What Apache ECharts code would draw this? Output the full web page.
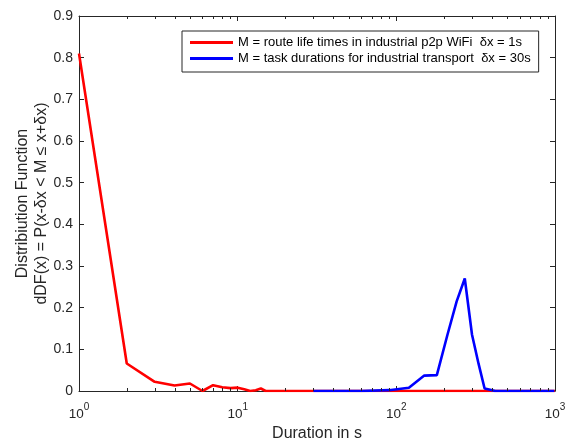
<!DOCTYPE html>
<html>
<head>
<meta charset="utf-8">
<script src="https://cdn.jsdelivr.net/npm/echarts@6/dist/echarts.min.js"></script>
<style>
  html, body { margin: 0; padding: 0; background: #fff; }
  #chart { width: 566px; height: 438px; }
</style>
</head>
<body>
<div id="chart"></div>
<script>
// Route life times in an industrial p2p WiFi network (bin width 1 s)
const routeDurations = [1, 2, 3, 4, 5, 6, 7, 8, 9, 10, 11, 12, 13, 14, 15, 16, 20, 1000];
const routeDDF = [0.81, 0.066, 0.022, 0.013, 0.018, 0.0, 0.014, 0.009, 0.007, 0.008, 0.004, 0.0, 0.002, 0.006, 0.0, 0.0, 0.0, 0.0];

// Task durations for industrial transport (bin width 30 s)
const taskDurations = [30, 60, 90, 120, 150, 180, 210, 240, 270, 300, 330, 360, 390, 420, 990];
const taskDDF = [0.0, 0.0, 0.002, 0.008, 0.037, 0.038, 0.135, 0.215, 0.27, 0.135, 0.065, 0.006, 0.003, 0.0, 0.0];

const seriesNames = [
  'M = route life times in industrial p2p WiFi  \u03b4x = 1s',
  'M = task durations for industrial transport  \u03b4x = 30s'
];

// Minor tick positions of the logarithmic duration axis
const minorTicks = [2, 3, 4, 5, 6, 7, 8, 9, 20, 30, 40, 50, 60, 70, 80, 90, 200, 300, 400, 500, 600, 700, 800, 900];

const axisColor = '#262626';
const fontFamily = 'Liberation Sans, Arial, Helvetica, sans-serif';

const toPairs = (xs, ys) => xs.map((x, i) => [x, ys[i]]);

const chart = echarts.init(document.getElementById('chart'), null, { renderer: 'canvas' });

const logLabel = {
  color: axisColor,
  fontFamily: fontFamily,
  margin: 8,
  formatter: v => '{b|10}{s|' + Math.round(Math.log10(v)) + '}',
  rich: {
    b: { fontSize: 13.5, fontFamily: fontFamily, color: axisColor, padding: [8, 0, 0, 0] },
    s: { fontSize: 10, fontFamily: fontFamily, color: axisColor, padding: [0, 0, 6, 0] }
  }
};

chart.setOption({
  animation: false,
  backgroundColor: '#fff',
  textStyle: { fontFamily: fontFamily },
  grid: { left: 79, right: 11, top: 16, bottom: 47, containLabel: false, outerBoundsMode: 'none' },
  legend: {
    data: seriesNames,
    orient: 'vertical',
    left: 182,
    top: 31,
    padding: [5, 8, 7, 8],
    itemGap: 3,
    itemWidth: 43,
    itemHeight: 3,
    icon: 'rect',
    borderColor: axisColor,
    borderWidth: 1,
    backgroundColor: '#fff',
    textStyle: { fontSize: 13, color: '#000', fontFamily: fontFamily, padding: [0, 0, 0, 0] }
  },
  xAxis: [
    {
      type: 'log', logBase: 10, min: 1, max: 1000, position: 'bottom',
      name: 'Duration in s', nameLocation: 'middle', nameGap: 31,
      nameTextStyle: { fontSize: 16, color: axisColor, fontFamily: fontFamily },
      axisLine: { onZero: false, lineStyle: { color: axisColor, width: 1 } },
      axisTick: { inside: true, length: 5, lineStyle: { color: axisColor } },
      axisLabel: logLabel,
      splitLine: { show: false }
    },
    {
      type: 'log', logBase: 10, min: 1, max: 1000, position: 'top',
      axisLine: { onZero: false, lineStyle: { color: axisColor, width: 1 } },
      axisTick: { inside: true, length: 5, lineStyle: { color: axisColor } },
      axisLabel: { show: false },
      splitLine: { show: false }
    }
  ],
  yAxis: [
    {
      type: 'value', min: 0, max: 0.9, interval: 0.1, position: 'left',
      name: 'Distribiution Function\ndDF(x) = P(x-\u03b4x < M \u2264 x+\u03b4x)',
      nameLocation: 'middle', nameGap: 28, nameRotate: 90, nameMoveOverlap: false,
      nameTextStyle: { fontSize: 16, color: axisColor, fontFamily: fontFamily, lineHeight: 19, align: 'center' },
      axisLine: { show: true, onZero: false, lineStyle: { color: axisColor, width: 1 } },
      axisTick: { show: true, inside: true, length: 5, lineStyle: { color: axisColor } },
      axisLabel: { fontSize: 14, color: axisColor, fontFamily: fontFamily, margin: 6,
                   formatter: v => (Math.round(v * 10) / 10).toString() },
      splitLine: { show: false }
    },
    {
      type: 'value', min: 0, max: 0.9, interval: 0.1, position: 'right',
      axisLine: { show: true, onZero: false, lineStyle: { color: axisColor, width: 1 } },
      axisTick: { show: true, inside: true, length: 5, lineStyle: { color: axisColor } },
      axisLabel: { show: false },
      splitLine: { show: false }
    }
  ],
  series: [
    {
      name: seriesNames[0], type: 'line', xAxisIndex: 0, yAxisIndex: 0,
      data: toPairs(routeDurations, routeDDF),
      showSymbol: false, symbol: 'none',
      lineStyle: { color: '#ff0000', width: 2.6 },
      itemStyle: { color: '#ff0000' },
      z: 3
    },
    {
      name: seriesNames[1], type: 'line', xAxisIndex: 0, yAxisIndex: 0,
      data: toPairs(taskDurations, taskDDF),
      showSymbol: false, symbol: 'none',
      lineStyle: { color: '#0000ff', width: 2.6 },
      itemStyle: { color: '#0000ff' },
      z: 4
    },
    {
      // minor ticks on bottom and top edges of the log axis
      type: 'custom', xAxisIndex: 0, yAxisIndex: 0, silent: true, z: 5,
      data: minorTicks.map(v => [v]),
      renderItem: (params, api) => {
        const v = api.value(0);
        const b = api.coord([v, 0]);
        const t = api.coord([v, 0.9]);
        const x = Math.round(b[0]) + 0.5;
        const style = { stroke: axisColor, lineWidth: 1 };
        return {
          type: 'group',
          children: [
            { type: 'line', shape: { x1: x, y1: b[1], x2: x, y2: b[1] - 3 }, style: style },
            { type: 'line', shape: { x1: x, y1: t[1], x2: x, y2: t[1] + 3 }, style: style }
          ]
        };
      },
      encode: { x: 0 }
    }
  ]
});
</script>
</body>
</html>
